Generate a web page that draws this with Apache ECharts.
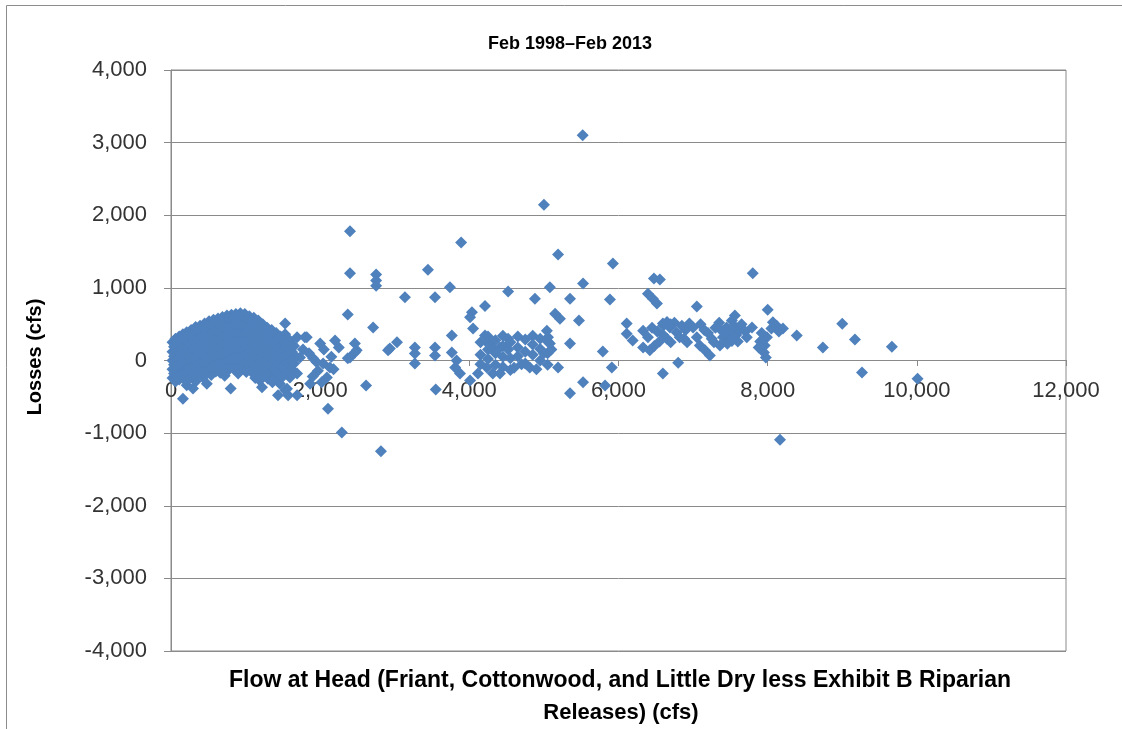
<!DOCTYPE html>
<html>
<head>
<meta charset="utf-8">
<script src="https://cdn.jsdelivr.net/npm/echarts@6/dist/echarts.min.js"></script>
<style>
html,body{margin:0;padding:0;background:#fff;}
#chart{width:1122px;height:729px;}
</style>
</head>
<body>
<div id="chart"></div>
<script>
// ---- Data (Flow at Head [cfs], Losses [cfs]) ----
const chartTitle = "Feb 1998–Feb 2013";
const xAxisTitle = ["Flow at Head (Friant, Cottonwood, and Little Dry less Exhibit B Riparian", "Releases) (cfs)"];
const yAxisTitle = "Losses (cfs)";
const xTicks = [0, 2000, 4000, 6000, 8000, 10000, 12000];
const yTicks = [-4000, -3000, -2000, -1000, 0, 1000, 2000, 3000, 4000];

const lowFlowPoints = [
  [20,250],[20,120],[20,0],[20,-120],[20,-240],
  [60,300],[60,180],[60,60],[60,-60],[60,-180],[60,-290],
  [110,330],[110,220],[110,100],[110,-20],[110,-140],[110,-260],
  [160,360],[160,240],[160,130],[160,10],[160,-110],[160,-230],[160,-525],
  [210,390],[210,270],[210,150],[210,40],[210,-80],[210,-200],[210,-340],
  [270,420],[270,300],[270,180],[270,70],[270,-50],[270,-170],[295,-385],
  [330,460],[330,340],[330,220],[330,100],[330,-20],[330,-140],[330,-290],
  [390,480],[390,360],[390,250],[390,130],[390,10],[390,-110],[430,-235],
  [450,510],[450,390],[450,270],[450,160],[450,40],[450,-80],[480,-320],
  [510,540],[510,420],[510,300],[510,190],[510,70],[510,-50],[540,-200],
  [570,560],[570,440],[570,330],[570,210],[570,100],[570,-20],[600,-150],
  [630,580],[630,470],[630,350],[630,240],[630,120],[630,0],[650,-120],
  [690,600],[690,490],[690,380],[690,260],[690,150],[690,30],[700,-90],[720,-210],
  [750,620],[750,500],[750,390],[750,280],[750,170],[750,50],[760,-70],
  [810,630],[810,520],[810,410],[810,300],[810,180],[810,60],[820,-60],[800,-385],
  [870,640],[870,530],[870,420],[870,300],[870,190],[870,70],[880,-50],[900,-180],
  [930,650],[930,540],[930,430],[930,320],[930,200],[930,80],[950,-40],
  [990,640],[990,520],[990,400],[990,290],[990,170],[990,60],[1000,-60],[1010,-160],
  [1050,610],[1050,500],[1050,380],[1050,270],[1050,150],[1050,40],[1060,-80],
  [1110,590],[1110,470],[1110,360],[1110,250],[1110,130],[1110,20],[1120,-100],[1130,-240],
  [1170,550],[1170,440],[1170,330],[1170,210],[1170,100],[1170,-20],[1180,-150],[1190,-275],
  [1230,500],[1230,390],[1230,280],[1230,170],[1230,50],[1230,-70],[1240,-200],[1220,-370],
  [1290,450],[1290,340],[1290,230],[1290,120],[1290,0],[1290,-120],[1300,-250],
  [1350,420],[1350,300],[1350,190],[1350,80],[1350,-40],[1350,-160],[1360,-300],
  [1410,380],[1410,270],[1410,160],[1410,40],[1410,-80],[1410,-200],[1435,-480],
  [1470,330],[1470,220],[1470,100],[1470,-20],[1470,-140],[1460,-320],
  [1530,510],[1530,360],[1530,240],[1530,120],[1530,0],[1530,-120],[1530,-410],
  [1590,280],[1590,170],[1590,50],[1590,-70],[1595,-235],[1570,-480],
  [1650,200],[1650,80],[1650,-40],
  [1690,320],[1730,40],[1690,-180],[1770,150],[1555,-390],[1690,-480]
];

const lowFlowInterior = [
  [40,190],[40,60],[40,-60],[40,-180],
  [85,260],[85,140],[85,20],[85,-100],[85,-220],
  [135,290],[135,170],[135,50],[135,-70],[135,-190],
  [185,320],[185,200],[185,90],[185,-30],[185,-150],[185,-270],
  [240,350],[240,230],[240,110],[240,-10],[240,-120],[240,-250],
  [300,390],[300,270],[300,150],[300,40],[300,-80],[300,-210],
  [360,420],[360,300],[360,190],[360,70],[360,-50],[360,-180],
  [420,450],[420,330],[420,210],[420,100],[420,-20],[420,-150],
  [480,470],[480,350],[480,240],[480,130],[480,10],[480,-120],
  [540,500],[540,380],[540,260],[540,150],[540,30],[540,-90],
  [600,520],[600,400],[600,290],[600,170],[600,60],[600,-70],
  [660,540],[660,430],[660,310],[660,200],[660,90],[660,-40],[660,-170],
  [720,560],[720,440],[720,330],[720,220],[720,110],[720,-20],[720,-140],
  [780,580],[780,460],[780,350],[780,240],[780,120],[780,0],[780,-120],
  [840,590],[840,470],[840,360],[840,250],[840,130],[840,10],[840,-110],
  [900,600],[900,490],[900,370],[900,260],[900,140],[900,20],[900,-100],
  [960,600],[960,480],[960,360],[960,250],[960,130],[960,10],[960,-100],
  [1020,570],[1020,450],[1020,340],[1020,220],[1020,100],[1020,-20],[1020,-120],
  [1080,540],[1080,420],[1080,310],[1080,200],[1080,80],[1080,-40],[1080,-160],
  [1140,510],[1140,390],[1140,280],[1140,160],[1140,40],[1140,-80],[1140,-200],
  [1200,460],[1200,350],[1200,240],[1200,120],[1200,0],[1200,-110],[1200,-240],
  [1260,420],[1260,310],[1260,200],[1260,80],[1260,-40],[1260,-160],
  [1320,380],[1320,270],[1320,150],[1320,40],[1320,-80],[1320,-200],
  [1380,340],[1380,220],[1380,110],[1380,-10],[1380,-130],[1380,-250],
  [1440,300],[1440,180],[1440,60],[1440,-60],[1440,-180],
  [1500,280],[1500,160],[1500,40],[1500,-80],[1500,-220],
  [1560,300],[1560,200],[1560,80],[1560,-40],[1560,-160],
  [1620,230],[1620,120],[1620,0],[1620,-120]
];

const nearTwoThousandPoints = [
  [1795,320],[1905,30],[2000,235],[2040,-40],[2130,-95],[1970,-140],[2090,-235],
  [1865,-320],[2200,275],[2465,235],[2490,140],[2400,40],[2370,30],[2465,110],
  [2615,-345],[2105,-665],[2290,-990],[2400,1780],[2400,1200],[2370,635],[2710,455],
  [2910,140],[1850,100],[1950,-20],[2050,150],[2150,50],[2020,-300],[1900,-220],
  [2250,180],[2180,-120],[1820,320]
];

const midFlowPoints = [
  [2750,1185],[2750,1100],[2750,1030],[2815,-1250],[3445,1250],[3890,1625],[3740,1010],
  [3540,870],[3137,870],[3270,180],[3270,95],[3270,-40],[3540,180],[3540,70],[3030,250],
  [2935,165],[3550,-400],[3765,345],[3765,110],[4035,665],[4010,595],[4210,750],
  [3830,0],[3810,-95],[3875,-180],[4010,-275],[4115,-180],[4235,-95],[4315,-180],
  [4050,440],[4210,345],[4250,235],[4315,165],[4410,180]
];

const bandPoints = [
  [4150,250],[4150,80],[4150,-50],[4250,330],[4250,150],[4250,20],[4350,280],[4350,100],
  [4350,-60],[4410,-180],[4450,340],[4450,200],[4450,50],[4450,-90],[4520,300],[4520,150],
  [4550,250],[4550,30],[4550,-130],[4650,330],[4650,180],[4650,60],[4700,-50],[4750,290],
  [4750,120],[4750,-40],[4810,-95],[4850,340],[4850,220],[4850,80],[4950,300],[4950,160],
  [4950,0],[5050,260],[5050,100],[5050,-60],[4600,-100],[4900,-120],[5100,150],[5000,100]
];

const upperMidPoints = [
  [4520,950],[4880,850],[5000,2145],[5520,3100],[5190,1460],[5080,1010],[5350,850],
  [5525,1060],[5150,645],[5215,575],[5470,550],[5040,410],[5055,320],[5080,235],[5350,235],
  [5190,-95],[5350,-450],[5525,-300],[5790,125],[5910,-95],[5820,-345],[5885,840],[5925,1335]
];

const highFlowPoints = [
  [6110,510],[6110,370],[6190,275],[6330,180],[6420,140],[6330,410],[6395,320],[6395,920],
  [6460,850],[6515,785],[6555,1115],[6475,1130],[6595,510],[6690,455],[6780,385],[6820,320],
  [6800,-30],[6595,-180],[7000,455],[7050,320],[7090,205],[7160,140],[7225,70],[7050,745],
  [7360,205],[7385,410],[7400,320],[7450,455],[7520,550],[7560,620],[7720,320],[7790,455],
  [7800,1200],[7990,320],[7960,205],[7950,110],[7975,40],[8000,700],[8070,525],[8120,480],
  [8205,440],[8390,345],[8740,180],[9000,505],[9170,290],[9665,190],[9265,-165],[10010,-250],
  [8165,-1090],
  [6450,450],[6520,400],[6600,480],[6650,530],[6700,500],[6750,520],[6850,480],[6900,420],
  [6950,510],[6880,300],[6920,250],[6650,300],[6700,250],[6600,350],[6550,260],[6480,200],
  [7100,500],[7150,420],[7200,380],[7250,300],[7280,250],[7300,450],[7350,520],[7420,380],
  [7480,300],[7500,420],[7550,480],[7580,350],[7620,420],[7650,500],[7600,260],[7700,400],
  [7520,270],[7460,230],[7900,260],[7920,380],[7880,180],[8050,440],[8150,400]
];

const allPoints = [].concat(lowFlowPoints, lowFlowInterior, nearTwoThousandPoints, midFlowPoints, bandPoints, upperMidPoints, highFlowPoints);

// ---- Chart ----
const fmt = v => Number(v).toLocaleString('en-US');
const gridColor = '#8a8a8a';
const textColor = '#333333';
const fontFamily = '"Liberation Sans", Arial, sans-serif';

const chart = echarts.init(document.getElementById('chart'), null, {renderer: 'canvas'});
chart.setOption({
  animation: false,
  backgroundColor: '#ffffff',
  grid: {
    left: 171, right: 56, top: 70, bottom: 78,
    show: true, borderColor: gridColor, borderWidth: 1,
    containLabel: false, outerBoundsMode: 'none'
  },
  xAxis: {
    type: 'value',
    min: xTicks[0], max: xTicks[xTicks.length - 1], interval: 2000,
    offset: -291,
    axisLine: {show: true, onZero: false, lineStyle: {color: gridColor, width: 1}},
    axisTick: {show: true, length: 6, lineStyle: {color: gridColor}},
    axisLabel: {color: textColor, fontSize: 22, fontFamily: fontFamily, margin: 20, formatter: fmt},
    splitLine: {show: false}
  },
  yAxis: {
    type: 'value',
    min: yTicks[0], max: yTicks[yTicks.length - 1], interval: 1000,
    axisLine: {show: true, onZero: false, lineStyle: {color: gridColor, width: 1}},
    axisTick: {show: true, length: 7, lineStyle: {color: gridColor}},
    axisLabel: {color: textColor, fontSize: 22, fontFamily: fontFamily, margin: 24, formatter: fmt},
    splitLine: {show: true, lineStyle: {color: gridColor, width: 1}}
  },
  series: [{
    type: 'scatter',
    data: allPoints,
    symbol: 'diamond',
    symbolSize: 12,
    itemStyle: {color: '#4F81BD', opacity: 1},
    emphasis: {disabled: true}
  }],
  graphic: [
    {type: 'rect', left: 4, top: 3, shape: {x: 0, y: 0, width: 1140, height: 760},
      style: {fill: null, stroke: '#8c8c8c', lineWidth: 1}, z: -10, silent: true},
    {type: 'text', x: 570, y: 44, style: {text: chartTitle, fill: '#000', font: 'bold 18px ' + fontFamily, textAlign: 'center', textVerticalAlign: 'middle'}},
    {type: 'text', x: 620, y: 681, style: {text: xAxisTitle[0], fill: '#000', font: 'bold 23px ' + fontFamily, textAlign: 'center', textVerticalAlign: 'middle'}},
    {type: 'text', x: 621, y: 713, style: {text: xAxisTitle[1], fill: '#000', font: 'bold 22px ' + fontFamily, textAlign: 'center', textVerticalAlign: 'middle'}},
    {type: 'text', x: 35, y: 357, rotation: Math.PI / 2, style: {text: yAxisTitle, fill: '#000', font: 'bold 20px ' + fontFamily, textAlign: 'center', textVerticalAlign: 'middle'}}
  ]
});
</script>
</body>
</html>
